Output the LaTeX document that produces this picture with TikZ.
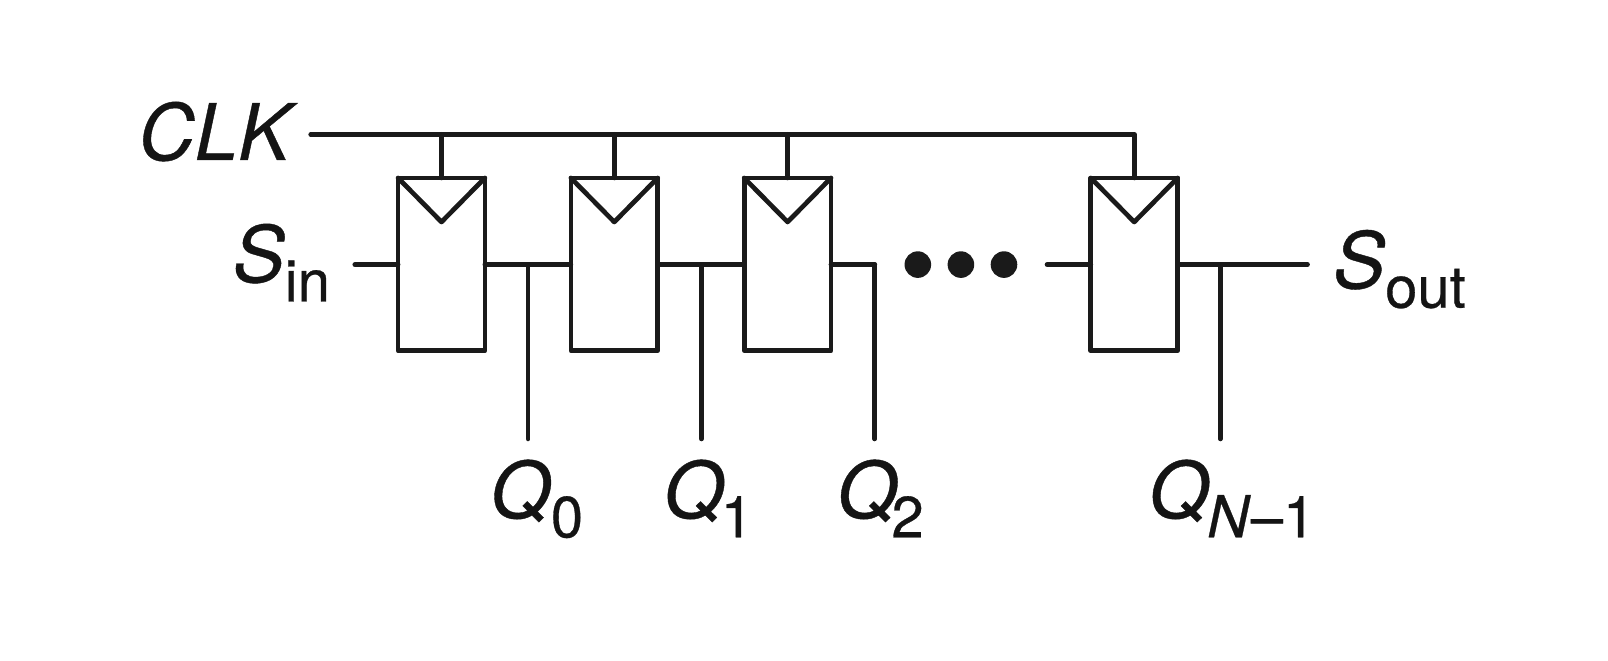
\documentclass[tikz,border=0pt]{standalone}
\usepackage{fontspec}
\setmainfont[FakeBold=0.5]{TeX Gyre Heros}
\newcommand{\lbl}[3][0pt]{{\fontsize{39}{39}\selectfont\itshape #2}\hspace{#1}\raisebox{-9.7pt}{\fontsize{29}{29}\selectfont #3}}
\definecolor{wireblack}{HTML}{1A1A1A}
\tikzset{
  wire/.style={draw=wireblack,line width=2.35pt,line cap=round,line join=round},
  ffbox/.style={rectangle,draw=wireblack,fill=white,line width=2.35pt,line join=round,minimum width=43.4pt,minimum height=86.4pt,inner sep=0pt,outer sep=0pt},
  dotn/.style={circle,fill=wireblack,minimum size=13.3pt,inner sep=0pt,outer sep=0pt},
  txt/.style={anchor=base west,inner sep=0pt,outer sep=0pt,text=black!92}
}
\begin{document}
\begin{tikzpicture}[x=0.51276pt,y=-0.51276pt]
\useasboundingbox (0,0) rectangle (1568,643.6);
% registers
\node[ffbox] (b0) at (430.5,257.8) {};
\node[ffbox] (b1) at (599,257.8) {};
\node[ffbox] (b2) at (768,257.8) {};
\node[ffbox] (b3) at (1106,257.8) {};
% free ends
\coordinate (clkstart) at (303,131);
\coordinate (clkend) at (1106,131);
\coordinate (sin) at (346,258);
\coordinate (after2) at (853,258);
\coordinate (before3) at (1021,258);
\coordinate (sout) at (1275,258);
\coordinate (q0top) at (515,258);
\coordinate (q1top) at (684,258);
\coordinate (q0end) at (515,428);
\coordinate (q1end) at (684,428);
\coordinate (q2end) at (853,428);
\coordinate (q3top) at (1190,258);
\coordinate (q3end) at (1190,428);
% clock
\draw[wire] (clkstart) -- (clkend) -- (b3.north);
\draw[wire] (b0.north |- clkstart) -- (b0.north);
\draw[wire] (b1.north |- clkstart) -- (b1.north);
\draw[wire] (b2.north |- clkstart) -- (b2.north);
% clock triangles
\foreach \b in {b0,b1,b2,b3}{
  \draw[wire] (\b.north west) -- ([yshift=-22pt]\b.north) -- (\b.north east);
}
% data
\draw[wire] (sin) -- (b0.west |- sin);
\draw[wire] (b0.east |- q0top) -- (b1.west |- q0top);
\draw[wire] (b1.east |- q1top) -- (b2.west |- q1top);
\draw[wire] (b2.east |- after2) -- (after2);
\draw[wire] (before3) -- (b3.west |- before3);
\draw[wire] (b3.east |- sout) -- (sout);
% outputs
\draw[wire] (q0top) -- (q0end);
\draw[wire] (q1top) -- (q1end);
\draw[wire] (after2) -- (q2end);
\draw[wire] (q3top) -- (q3end);
% ellipsis
\node[dotn] (d1) at (895,258) {};
\node[dotn] (d2) at (937,258) {};
\node[dotn] (d3) at (979,258) {};
% labels
\node[txt] (clk) at (135,156) {\fontsize{39}{39}\selectfont\itshape CLK};
\node[txt] (slabel) at (227,275) {\lbl{S}{in}};
\node[txt] (solabel) at (1300,281) {\lbl{S}{out}};
\node[txt] (ql0) at (478,505) {\lbl{Q}{0}};
\node[txt] (ql1) at (647,505) {\lbl[-1.7pt]{Q}{1}};
\node[txt] (ql2) at (816,505) {\lbl[-3pt]{Q}{2}};
\node[txt] (ql3) at (1120,505) {\lbl[-1pt]{Q}{\textit{N}–1}};
\end{tikzpicture}
\end{document}
